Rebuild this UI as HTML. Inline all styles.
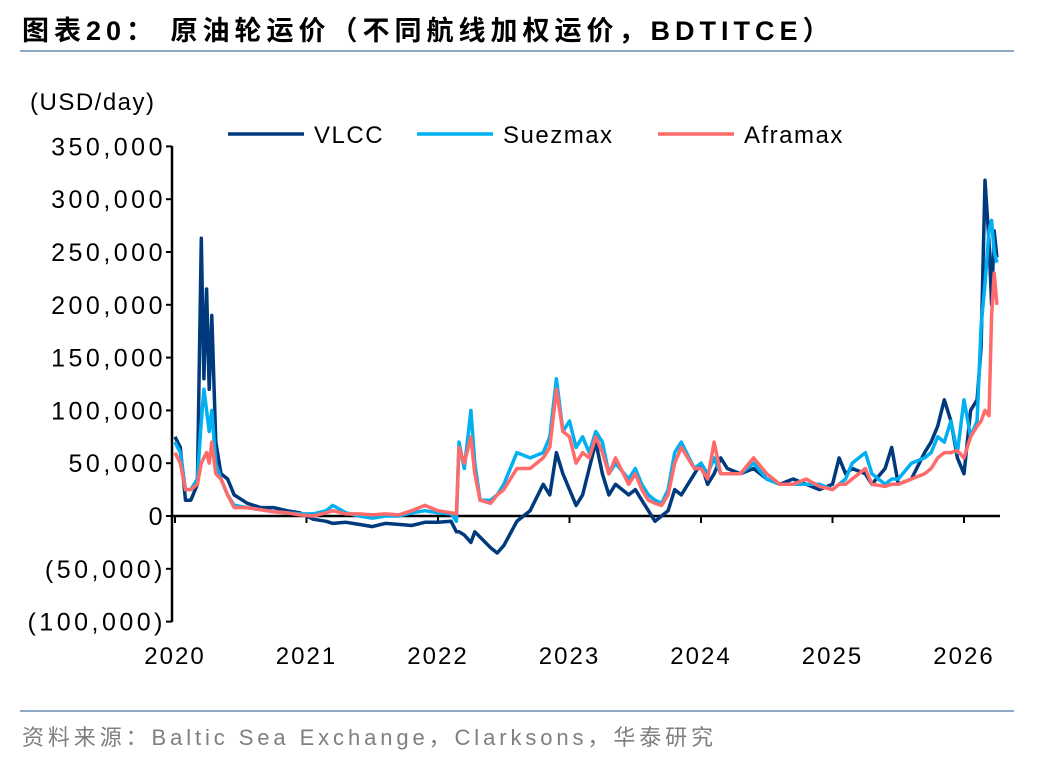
<!DOCTYPE html>
<html><head><meta charset="utf-8"><style>
body{margin:0;background:#fff;width:1048px;height:760px;overflow:hidden;font-family:"Liberation Sans","Noto Sans CJK SC",sans-serif}
.title{position:absolute;left:22px;top:9px;font-size:27px;font-weight:bold;color:#000;letter-spacing:5px;white-space:nowrap}
.rule{position:absolute;left:20px;width:994px;height:2px;background:#8fa9c4}
.src{position:absolute;left:22px;top:720px;font-size:22px;color:#7f7f7f;letter-spacing:3.9px;white-space:nowrap}
</style></head><body>
<div class="title">图表20：&nbsp;原油轮运价（不同航线加权运价，BDTITCE）</div>
<div class="rule" style="top:50px"></div>
<div class="rule" style="top:710px"></div>
<div class="src">资料来源：Baltic Sea Exchange，Clarksons，华泰研究</div>
<svg id="chart" width="1048" height="760" style="position:absolute;left:0;top:0"></svg>
<script>
const dates=[2020.00,2020.04,2020.08,2020.12,2020.17,2020.20,2020.22,2020.24,2020.26,2020.28,2020.31,2020.35,2020.40,2020.45,2020.55,2020.65,2020.75,2020.85,2020.95,2021.05,2021.15,2021.2,2021.3,2021.4,2021.5,2021.6,2021.7,2021.8,2021.9,2022.0,2022.1,2022.14,2022.16,2022.2,2022.25,2022.28,2022.32,2022.4,2022.45,2022.5,2022.6,2022.7,2022.8,2022.85,2022.9,2022.95,2023.0,2023.05,2023.1,2023.15,2023.2,2023.25,2023.3,2023.35,2023.45,2023.5,2023.55,2023.6,2023.65,2023.7,2023.75,2023.8,2023.85,2023.95,2024.0,2024.05,2024.1,2024.15,2024.2,2024.3,2024.4,2024.5,2024.6,2024.7,2024.8,2024.9,2025.0,2025.05,2025.1,2025.15,2025.25,2025.3,2025.4,2025.45,2025.5,2025.6,2025.7,2025.75,2025.8,2025.85,2025.9,2025.95,2026.0,2026.05,2026.1,2026.13,2026.16,2026.19,2026.21,2026.23,2026.25];
const vlcc=[75,65,15,15,30,263,130,215,120,190,70,40,35,20,12,8,8,5,3,-3,-5,-7,-6,-8,-10,-7,-8,-9,-6,-6,-5,-15,-15,-18,-25,-15,-20,-30,-35,-28,-5,5,30,20,60,40,25,10,20,45,70,40,20,30,20,25,15,5,-5,0,5,25,20,40,50,30,40,55,45,40,45,35,30,35,30,25,30,55,40,45,40,30,45,65,30,35,60,70,85,110,90,55,40,100,110,160,318,260,200,270,245];
const suezmax=[70,60,25,25,35,90,120,100,80,100,50,35,20,10,8,6,4,3,2,2,5,10,3,0,-2,0,0,3,5,3,2,-5,70,45,100,50,15,15,20,30,60,55,60,75,130,80,90,65,75,60,80,70,40,50,35,45,30,20,15,12,25,60,70,45,50,40,55,40,40,40,50,35,30,30,30,30,25,30,35,50,60,40,30,35,35,50,55,60,75,70,90,60,110,75,90,180,220,270,280,250,240];
const aframax=[60,50,25,25,30,50,55,60,50,70,40,35,20,8,8,6,4,3,1,0,3,5,2,2,1,2,1,5,10,5,3,2,65,50,75,40,15,12,20,25,45,45,55,65,120,80,75,50,60,55,75,60,40,55,30,40,25,15,12,10,20,50,65,45,45,35,70,40,40,40,55,40,30,30,35,28,25,30,30,35,45,30,28,30,30,35,40,45,55,60,60,62,55,75,85,90,100,95,190,230,200];
const yTicks=[350000,300000,250000,200000,150000,100000,50000,0,-50000,-100000];
const yTickLabels=["350,000","300,000","250,000","200,000","150,000","100,000","50,000","0","(50,000)","(100,000)"];
const xTicks=[2020,2021,2022,2023,2024,2025,2026];
const NS="http://www.w3.org/2000/svg";
const svg=document.getElementById('chart');
const X=v=>175+(v-2020)*131.5;
const Y=v=>516-v*1.056/1000;
function mk(t,a,p){const e=document.createElementNS(NS,t);for(const k in a)e.setAttribute(k,a[k]);(p||svg).appendChild(e);return e;}
const ya=mk('line',{x1:172,y1:146,x2:172,y2:622,stroke:'#000','stroke-width':2.5});


yTicks.forEach((t,i)=>{
 const tk=mk('line',{x1:166,y1:Y(t),x2:172,y2:Y(t),stroke:'#000','stroke-width':2});
 
 
 const tx=mk('text',{x:166,y:Y(t)+9,'text-anchor':'end','font-size':25,fill:'#000','letter-spacing':3.5,'font-family':'Liberation Sans, sans-serif'});
 tx.textContent=yTickLabels[i];
 
 
});
const xa=mk('line',{x1:172,y1:Y(0),x2:1000,y2:Y(0),stroke:'#000','stroke-width':2.5});


xTicks.forEach(t=>{
 const tk=mk('line',{x1:X(t),y1:Y(0),x2:X(t),y2:Y(0)+7,stroke:'#000','stroke-width':2});
 
 
 const tx=mk('text',{x:X(t),y:664,'text-anchor':'middle','font-size':24,fill:'#000','letter-spacing':2,'font-family':'Liberation Sans, sans-serif'});
 tx.textContent=t;
 
 
});
const yt=mk('text',{x:30,y:110,'font-size':24,fill:'#000','letter-spacing':1.5,'font-family':'Liberation Sans, sans-serif'});
yt.textContent='(USD/day)';


function series(vals,color,name){
 const d=vals.map((v,i)=>(i?'L':'M')+X(dates[i]).toFixed(1)+','+Y(v*1000).toFixed(1)).join('');
 const p=mk('path',{d:d,fill:'none',stroke:color,'stroke-width':3.5,'stroke-linejoin':'round'});
 
 
}
series(vlcc,'#003a7d','vlcc-line');
series(suezmax,'#00b0f0','suezmax-line');
series(aframax,'#ff6b6b','aframax-line');
[[228,'#003a7d','VLCC'],[417,'#00b0f0','Suezmax'],[658,'#ff6b6b','Aframax']].forEach(l=>{
 const ln=mk('line',{x1:l[0],y1:134,x2:l[0]+76,y2:134,stroke:l[1],'stroke-width':3.5});
 
 
 const tx=mk('text',{x:l[0]+86,y:143,'font-size':24,fill:'#000','letter-spacing':1.5,'font-family':'Liberation Sans, sans-serif'});
 tx.textContent=l[2];
 
 
});
</script>
</body></html>
